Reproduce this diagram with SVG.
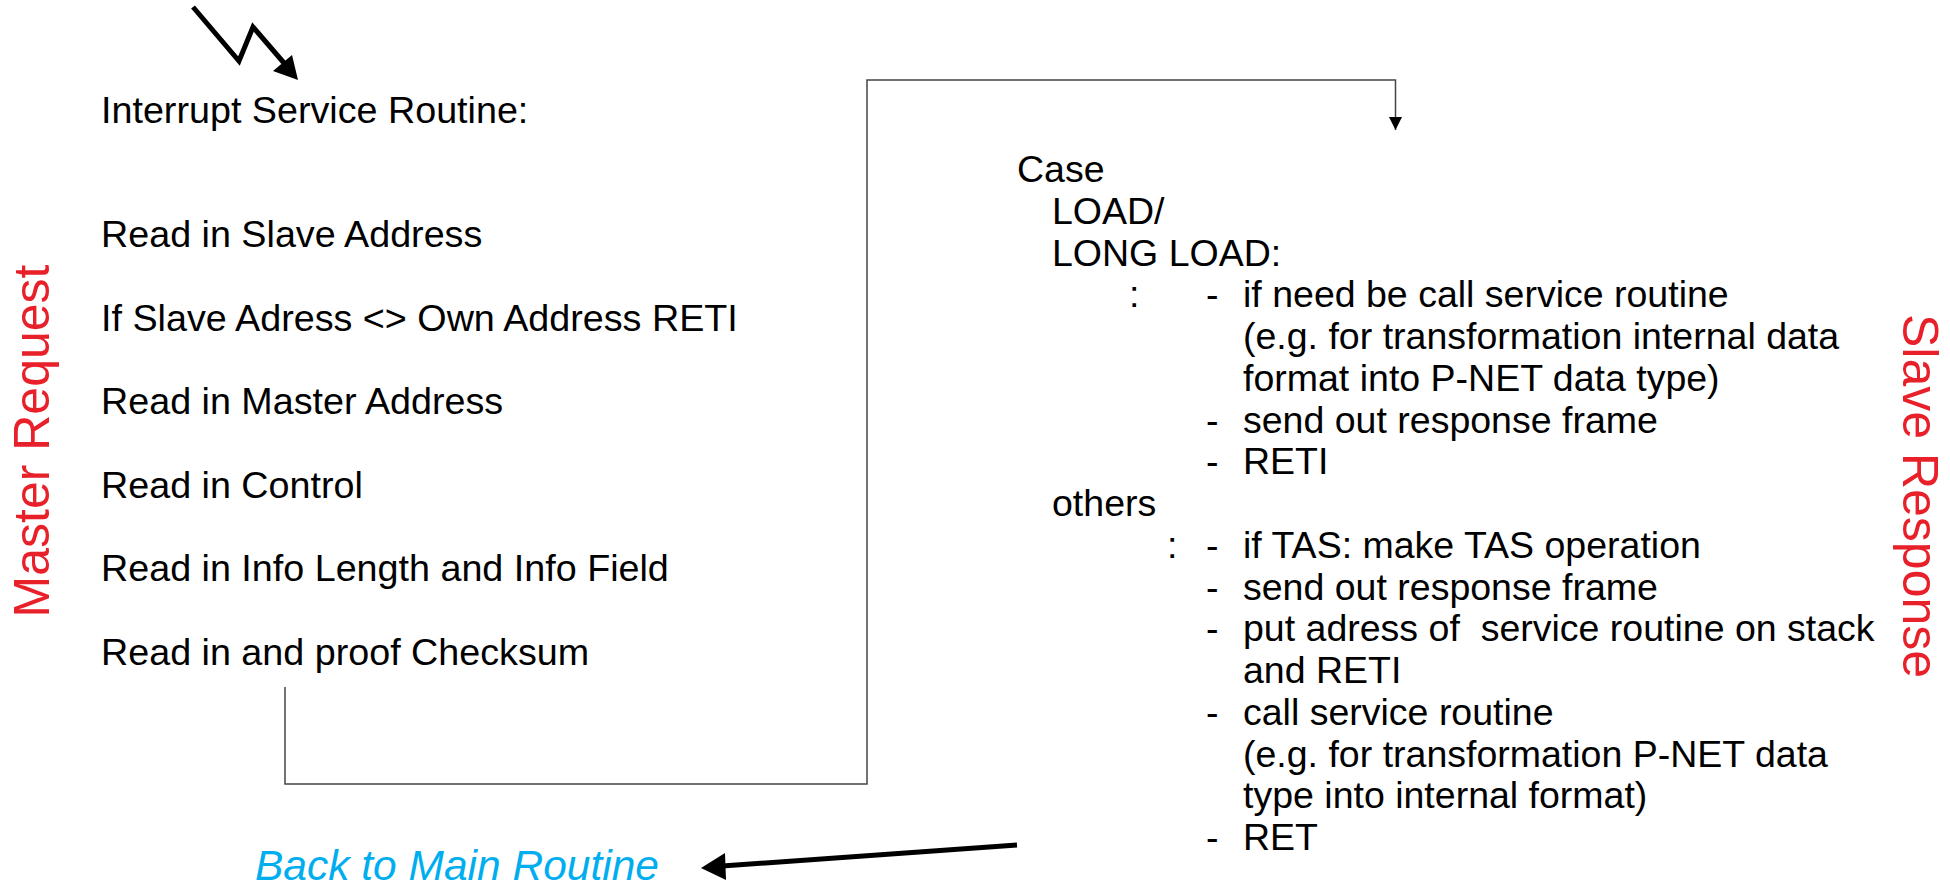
<svg xmlns="http://www.w3.org/2000/svg" width="1950" height="886" viewBox="0 0 1950 886">
  <style>
    .t { font-family: "Liberation Sans", Arial, sans-serif; font-size: 37.5px; fill: #000; white-space: pre; }
    .side { font-family: "Liberation Sans", Arial, sans-serif; font-size: 50px; fill: #E8202A; }
    .back { font-family: "Liberation Sans", Arial, sans-serif; font-size: 42.5px; font-style: italic; fill: #00AEEF; }
    .flow { fill: none; stroke: #444; stroke-width: 1.5; }
    .thick { fill: none; stroke: #000; stroke-width: 5; }
  </style>
  <defs>
    <marker id="smallArrow" markerWidth="14" markerHeight="14" refX="13" refY="6.5" orient="auto" markerUnits="userSpaceOnUse">
      <path d="M0,0 L13,6.5 L0,13 Z" fill="#000"/>
    </marker>
  </defs>
  <rect width="1950" height="886" fill="#fff"/>

  <g id="connectors">
    <polyline class="flow" points="285,687 285,784 867,784 867,80 1395.5,80 1395.5,130" marker-end="url(#smallArrow)"/>
    <line class="thick" x1="1017" y1="845" x2="722" y2="866"/>
    <path d="M701,868 L725,853 L726,880 Z" fill="#000"/>
    <polyline class="thick" stroke-linejoin="miter" points="193,7 239,61 253,27 284,63"/>
    <path d="M298,80 L273,71 L292,55 Z" fill="#000"/>
  </g>

  <g id="isr-title">
    <text class="t" x="101" y="123" style="font-size:37.7px">Interrupt Service Routine:</text>
  </g>

  <g id="master-request-steps" style="font-size:37.7px">
    <text class="t" x="101" y="247" style="font-size:37.7px">Read in Slave Address</text>
    <text class="t" x="101" y="330.5" style="font-size:37.7px">If Slave Adress &lt;&gt; Own Address RETI</text>
    <text class="t" x="101" y="414" style="font-size:37.7px">Read in Master Address</text>
    <text class="t" x="101" y="497.5" style="font-size:37.7px">Read in Control</text>
    <text class="t" x="101" y="581" style="font-size:37.7px">Read in Info Length and Info Field</text>
    <text class="t" x="101" y="664.5" style="font-size:37.7px">Read in and proof Checksum</text>
  </g>

  <g id="slave-response-steps">
    <text class="t" x="1017" y="182">Case</text>
    <text class="t" x="1052" y="223.75">LOAD/</text>
    <text class="t" x="1052" y="265.5">LONG LOAD:</text>
    <text class="t" x="1129" y="307.25">:</text>
    <text class="t" x="1206" y="307.25">-</text>
    <text class="t" x="1243" y="307.25">if need be call service routine</text>
    <text class="t" x="1243" y="349">(e.g. for transformation internal data</text>
    <text class="t" x="1243" y="390.75">format into P-NET data type)</text>
    <text class="t" x="1206" y="432.5">-</text>
    <text class="t" x="1243" y="432.5">send out response frame</text>
    <text class="t" x="1206" y="474.25">-</text>
    <text class="t" x="1243" y="474.25">RETI</text>
    <text class="t" x="1052" y="516">others</text>
    <text class="t" x="1167" y="557.75">:</text>
    <text class="t" x="1206" y="557.75">-</text>
    <text class="t" x="1243" y="557.75">if TAS: make TAS operation</text>
    <text class="t" x="1206" y="599.5">-</text>
    <text class="t" x="1243" y="599.5">send out response frame</text>
    <text class="t" x="1206" y="641.25">-</text>
    <text class="t" x="1243" y="641.25">put adress of  service routine on stack</text>
    <text class="t" x="1243" y="683">and RETI</text>
    <text class="t" x="1206" y="724.75">-</text>
    <text class="t" x="1243" y="724.75">call service routine</text>
    <text class="t" x="1243" y="766.5">(e.g. for transformation P-NET data</text>
    <text class="t" x="1243" y="808.25">type into internal format)</text>
    <text class="t" x="1206" y="850">-</text>
    <text class="t" x="1243" y="850">RET</text>
  </g>

  <g id="label-master-request">
    <text class="side" transform="translate(49,441) rotate(-90)" text-anchor="middle">Master Request</text>
  </g>

  <g id="label-slave-response">
    <text class="side" transform="translate(1903,496) rotate(90)" text-anchor="middle">Slave Response</text>
  </g>

  <g id="back-to-main">
    <text class="back" x="255" y="880">Back to Main Routine</text>
  </g>
</svg>
